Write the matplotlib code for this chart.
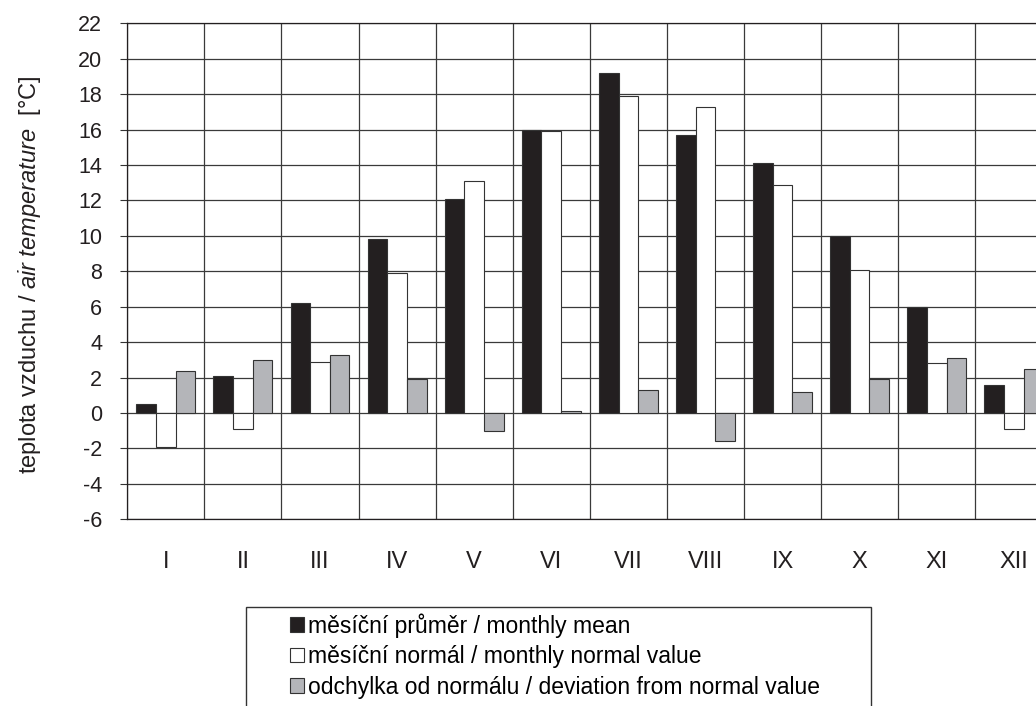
import matplotlib
matplotlib.use("Agg")
import matplotlib.pyplot as plt
from matplotlib.patches import Rectangle
import numpy as np

plt.rcParams['font.family'] = ['Liberation Sans', 'DejaVu Sans']
plt.rcParams['mathtext.fontset'] = 'custom'
plt.rcParams['mathtext.rm'] = 'Liberation Sans'
plt.rcParams['mathtext.it'] = 'Liberation Sans:italic'
plt.rcParams['axes.unicode_minus'] = False

# data (deg C)
months = ['I', 'II', 'III', 'IV', 'V', 'VI', 'VII', 'VIII', 'IX', 'X', 'XI', 'XII']
monthly_mean = [0.5, 2.1, 6.2, 9.8, 12.1, 16.0, 19.2, 15.7, 14.1, 10.0, 6.0, 1.6]
monthly_normal = [-1.9, -0.9, 2.9, 7.9, 13.1, 15.9, 17.9, 17.3, 12.9, 8.1, 2.8, -0.9]
deviation = [2.4, 3.0, 3.3, 1.9, -1.0, 0.1, 1.3, -1.6, 1.2, 1.9, 3.1, 2.5]

labels = ['měsíční průměr / monthly mean',
          'měsíční normál / monthly normal value',
          'odchylka od normálu / deviation from normal value']

W, H = 1036, 706
fig = plt.figure(figsize=(W / 100, H / 100), dpi=100)
# axes runs past the right edge of the picture, as in the reference
ax = fig.add_axes([127.3 / W, 1 - 519.3 / H, 925 / W, 496 / H])

x = np.arange(len(months))
bw = 0.255
edge = '#333333'
b1 = ax.bar(x - bw, monthly_mean, bw, color='#231f20', edgecolor=edge, linewidth=0.8, zorder=3)
b2 = ax.bar(x, monthly_normal, bw, color='white', edgecolor=edge, linewidth=0.8, zorder=3)
b3 = ax.bar(x + bw, deviation, bw, color='#b4b5b9', edgecolor=edge, linewidth=0.8, zorder=3)

ax.set_xlim(-0.5, len(months) - 0.5)
ax.set_ylim(-6, 22)
ax.set_yticks(np.arange(-6, 23, 2))
ax.set_xticks(x)
ax.set_xticklabels(months, fontsize=17, color='#231f20')
ax.set_xticks(np.arange(-0.5, len(months), 1), minor=True)
ax.tick_params(axis='x', which='both', length=0, pad=23)
ax.tick_params(axis='y', length=5, width=0.8, pad=13, labelsize=15.5, labelcolor='#231f20', color=edge)
ax.grid(axis='y', which='major', color='#3a3a3a', linewidth=0.9, zorder=0)
ax.grid(axis='x', which='minor', color='#3a3a3a', linewidth=0.9, zorder=0)
for s in ax.spines.values():
    s.set_color('#231f20')
    s.set_linewidth(0.9)

fig.text(30 / W, 1 - 275 / H, 'teplota vzduchu / $\\mathit{air\\ temperature}$  [°C]',
         rotation=90, ha='center', va='center', fontsize=17, color='#231f20')

# legend frame (cut by the bottom edge like the reference)
fig.patches.append(Rectangle((246 / W, -0.05), (870.7 - 246) / W, 0.05 + 1 - 606.7 / H,
                             transform=fig.transFigure, fill=False, edgecolor=edge, linewidth=1))
fig.legend([b1, b2, b3], labels, loc='upper left', bbox_to_anchor=(290 / W, 1 - 613 / H),
           frameon=False, fontsize=16.5, handlelength=0.6, handleheight=0.6, handletextpad=0.2,
           labelspacing=0.33, borderpad=0, borderaxespad=0)

fig.savefig('out.png', dpi=100)
